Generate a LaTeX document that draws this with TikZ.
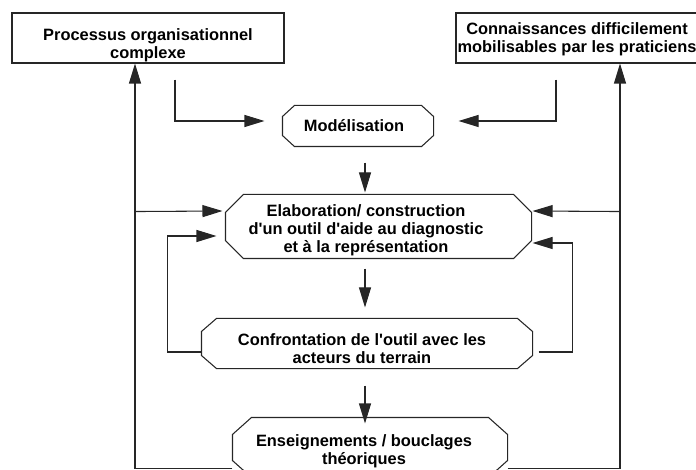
\documentclass[tikz,border=0pt]{standalone}
\usepackage{fontspec}
\setmainfont{Liberation Sans}
\usetikzlibrary{calc,arrows.meta}
\def\chamfer(#1)(#2:#3){\draw ($(#1.north west)+(#2,0)$) -- ($(#1.north east)+(-#2,0)$) -- ($(#1.north east)+(0,#3)$) -- ($(#1.south east)+(0,-#3)$) -- ($(#1.south east)+(-#2,0)$) -- ($(#1.south west)+(#2,0)$) -- ($(#1.south west)+(0,-#3)$) -- ($(#1.north west)+(0,#3)$) -- cycle;}

\begin{document}
\begin{tikzpicture}[x=0.75pt, y=-0.75pt, line width=0.8pt, color=black!85,
	boite/.style 2 args={minimum width=#1, minimum height=#2, inner sep=0pt},
	txt/.style={font=\bfseries\fontsize{12.3}{13.6}\selectfont, align=center, inner sep=0pt, text=black},
	fleche/.style={-{Triangle[length=15pt, width=9pt]}}]
		%%%%% START %%%%%
		\useasboundingbox (0,0) rectangle (696,470);
		
		\node[boite={204pt}{37.5pt}, draw] (proc) at (148,38) {};
		\node[boite={181.5pt}{37.5pt}, draw] (conn) at (577,38) {};
		
		\node[boite={112.5pt}{30pt}] (model) at (358,126) {};
		\node[boite={228.75pt}{47.25pt}] (elab) at (378.5,226.5) {};
		\node[boite={247.5pt}{36.75pt}] (conf) at (367,343.5) {};
		\node[boite={205.5pt}{44.25pt}] (ens) at (370,447.5) {};
		
		\chamfer(model)(12:11)
		\chamfer(elab)(18:18)
		\chamfer(conf)(15:13)
		\chamfer(ens)(19:17)
		
		\node[txt] (proct) at (148,45) {Processus organisationnel\\complexe};
		\node[txt] (connt) at (577,39.5) {Connaissances difficilement\\mobilisables par les praticiens};
		\node[txt] (modelt) at (354,125.5) {Modélisation};
		\node[txt] (elabt) at (366,230) {Elaboration/ construction\\d\textquotesingle un outil d\textquotesingle aide au diagnostic\\et à la représentation};
		\node[txt] (conft) at (362,348.5) {Confrontation de l\textquotesingle outil avec les\\acteurs du terrain};
		\node[txt] (enst) at (364,451) {Enseignements / bouclages\\théoriques};
		
		\draw[fleche] ($(proc.south)+(27,16)$) |- ($(model.west)+(-18,-5)$);
		\draw[fleche] ($(conn.south)+(-21,16)$) |- ($(model.east)+(25,-5)$);
		\draw[fleche] ($(model.south)+(7,16)$) -- ($(elab.north)+(-13.5,-2)$);
		
		\draw[fleche] ($(ens.south west)+(0,-9)$) -| ($(proc.south)+(-13,0)$);
		\draw[fleche] ($(proc.south)+(-13,148)$) -- ($(elab.west)+(-3,-15.5)$);
		\draw[fleche] ($(ens.south east)+(0,-9)$) -| ($(conn.south)+(43,0)$);
		\draw[fleche] ($(conn.south)+(43,148)$) -- ($(elab.east)+(1,-15.5)$);
		
		\draw[fleche] ($(elab.south)+(-13.5,10)$) -- ($(conf.north)+(-2,-11)$);
		\draw[fleche] ($(conf.west)+(0,8.5)$) -- ++(-34,0) |- ($(elab.west)+(-9,9.5)$);
		\draw[fleche] ($(conf.east)+(6,8.5)$) -- ++(34,0) |- ($(elab.east)+(1,16.5)$);
		\draw[fleche] ($(conf.south)+(-2,17)$) -- ($(ens.north)+(-5,6)$);
		%%%%% END %%%%%
\end{tikzpicture}
\end{document}
